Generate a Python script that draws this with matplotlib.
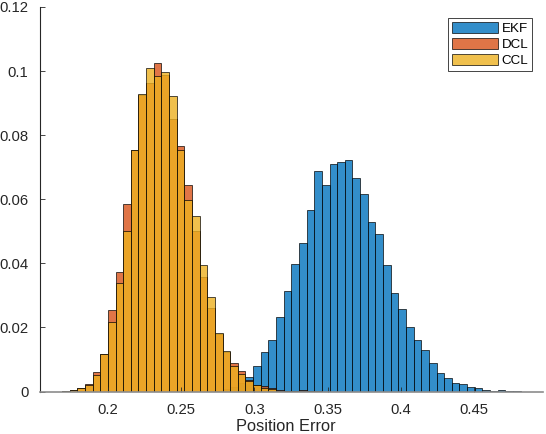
import numpy as np
import matplotlib
matplotlib.use("Agg")
import matplotlib.pyplot as plt

plt.rcParams['font.family'] = ['Liberation Sans', 'DejaVu Sans']

# histogram bins
bin_start = 0.16884
bin_width = 0.005213

# probability per bin, index 0 starts at bin_start
ekf = [0, 0, 0, 0, 0, 0, 0, 0, 0, 0,
       0, 0, 0, 0, 0, 0, 0, 0, 0, 0,
       0.0003, 0.0008, 0.0015, 0.0028, 0.0046, 0.0081, 0.0124, 0.0162, 0.0232, 0.0314,
       0.0399, 0.0464, 0.0566, 0.0689, 0.0646, 0.0711, 0.0717, 0.0722, 0.0665, 0.0615,
       0.0530, 0.0492, 0.0394, 0.0306, 0.0256, 0.0201, 0.0160, 0.0128, 0.0089, 0.0057,
       0.0043, 0.0028, 0.0022, 0.0014, 0.0011, 0.0004, 0.0001, 0.0005, 0.0001, 0.0001]

dcl = [0.0001, 0.0005, 0.0012, 0.0024, 0.0060, 0.0118, 0.0255, 0.0373, 0.0586, 0.0755,
       0.0925, 0.0963, 0.1026, 0.0989, 0.0852, 0.0767, 0.0645, 0.0500, 0.0358, 0.0262,
       0.0178, 0.0124, 0.0089, 0.0065, 0.0037, 0.0021, 0.0016, 0.0012, 0.0004, 0.0002,
       0.0001, 0.0004, 0.0002, 0, 0, 0, 0, 0, 0, 0,
       0, 0, 0, 0, 0, 0, 0, 0, 0, 0,
       0, 0, 0, 0, 0, 0, 0, 0, 0, 0]

ccl = [0.0001, 0.0005, 0.0012, 0.0020, 0.0053, 0.0116, 0.0218, 0.0339, 0.0502, 0.0754,
       0.0929, 0.1010, 0.0986, 0.0996, 0.0922, 0.0753, 0.0597, 0.0548, 0.0394, 0.0294,
       0.0182, 0.0126, 0.0081, 0.0054, 0.0034, 0.0020, 0.0012, 0.0008, 0.0003, 0.0002,
       0.0001, 0.0003, 0.0002, 0.0001, 0, 0, 0, 0, 0, 0,
       0, 0, 0, 0, 0, 0, 0, 0, 0, 0,
       0, 0, 0, 0, 0, 0, 0, 0, 0, 0]

labels = ["EKF", "DCL", "CCL"]
colors = [(0, 0.447, 0.741), (0.85, 0.325, 0.098), (0.929, 0.694, 0.125)]

xticks = [0.2, 0.25, 0.3, 0.35, 0.4, 0.45]
xtick_labels = ["0.2", "0.25", "0.3", "0.35", "0.4", "0.45"]
yticks = [0, 0.02, 0.04, 0.06, 0.08, 0.1, 0.12]
ytick_labels = ["0", "0.02", "0.04", "0.06", "0.08", "0.1", "0.12"]

fig = plt.figure(figsize=(5.46, 4.34), dpi=100)
ax = fig.add_axes([39.7 / 546, 42.5 / 434, 503.6 / 546, 384.5 / 434])

left_edges = bin_start + bin_width * np.arange(len(ekf))
for data, lab, col in zip([ekf, dcl, ccl], labels, colors):
    ax.bar(left_edges, data, width=bin_width, align='edge', color=col, alpha=0.8,
           edgecolor=(0, 0, 0, 0.4), linewidth=0.6, label=lab)

ax.set_xlim(0.1536, 0.4971)
ax.set_ylim(0, 0.12)
ax.set_xticks(xticks)
ax.set_xticklabels(xtick_labels)
ax.set_yticks(yticks)
ax.set_yticklabels(ytick_labels)

dark = (0.15, 0.15, 0.15)
ax.spines['top'].set_visible(False)
ax.spines['right'].set_visible(False)
ax.spines['left'].set_color(dark)
ax.spines['left'].set_linewidth(0.8)
ax.spines['bottom'].set_color('#8c8c8c')
ax.spines['bottom'].set_linewidth(1.2)
ax.tick_params(direction='in', length=3.5, width=0.6, colors=dark,
               labelsize=10.7, labelcolor=dark)
ax.tick_params(axis='y', pad=8)
ax.tick_params(axis='x', pad=8)

# kept just inside the figure so the whole label is readable
ax.set_xlabel("Position Error", fontsize=11.8, color=dark)
ax.xaxis.set_label_coords(0.489, -0.072)

leg = ax.legend(loc='upper right', bbox_to_anchor=(532.3 / 546, 1 - 18 / 434),
                bbox_transform=fig.transFigure, borderaxespad=0,
                fontsize=9.6, handlelength=3.45, handleheight=0.9,
                labelspacing=0.2, handletextpad=0.3, borderpad=0.3,
                fancybox=False, framealpha=1)
leg.get_frame().set_edgecolor(dark)
leg.get_frame().set_linewidth(0.6)

fig.savefig("out.png", dpi=100)
